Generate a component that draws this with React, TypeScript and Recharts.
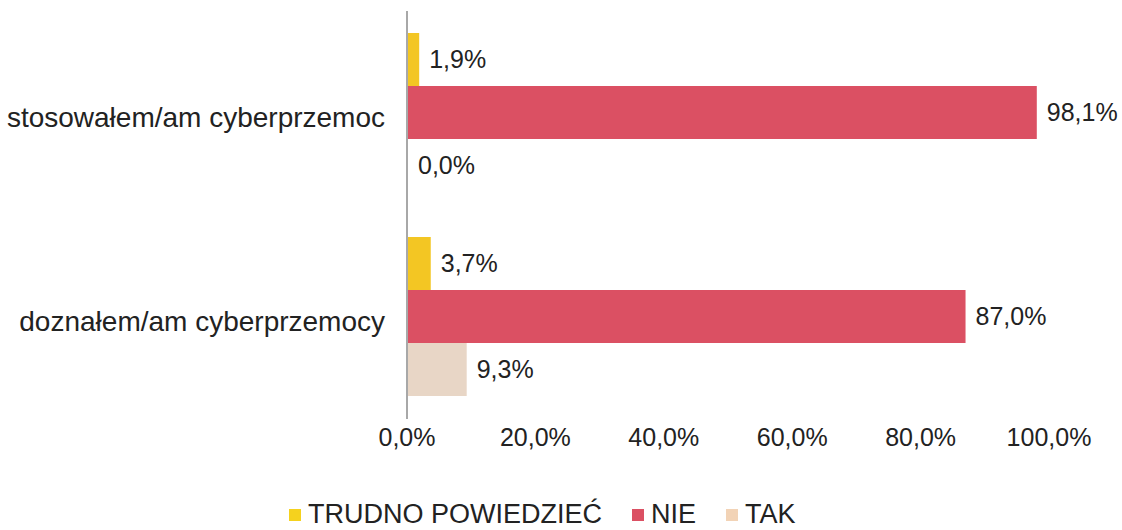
import React from 'react';
import { BarChart, Bar, XAxis, YAxis, Legend, LabelList } from 'recharts';

const categories = ['stosowałem/am cyberprzemoc', 'doznałem/am cyberprzemocy'];
const trudno = [1.9, 3.7];
const nie = [98.1, 87.0];
const tak = [0.0, 9.3];
const xTicks = [0, 20, 40, 60, 80, 100];

const SERIES = [
  { key: 'trudno', name: 'TRUDNO POWIEDZIEĆ', color: '#F3C623', legendColor: '#F5D21E' },
  { key: 'nie', name: 'NIE', color: '#DB5063', legendColor: '#DB5063' },
  { key: 'tak', name: 'TAK', color: '#E8D6C6', legendColor: '#F2D3B6' },
];

const data = categories.map((c, i) => ({
  name: c,
  trudno: trudno[i],
  nie: nie[i],
  tak: tak[i],
}));

const FONT = '"Liberation Sans", Arial, sans-serif';

const pct = (v: number) => `${Number(v).toFixed(1).replace('.', ',')}%`;

const CategoryTick = (props: any) => {
  const { x, y, payload } = props;
  return (
    <text x={x} y={y} dy={14} textAnchor="end" fontSize={28} fill="#222" fontFamily={FONT}>
      {payload.value}
    </text>
  );
};

const LegendContent = () => (
  <div style={{ display: 'flex', alignItems: 'center', fontFamily: FONT, fontSize: 27, color: '#222' }}>
    {SERIES.map((s) => (
      <div key={s.key} style={{ display: 'flex', alignItems: 'center', marginRight: 30 }}>
        <span
          style={{
            width: 12,
            height: 12,
            background: s.legendColor,
            display: 'inline-block',
            marginRight: 7,
          }}
        />
        <span>{s.name}</span>
      </div>
    ))}
  </div>
);

export default function App() {
  return (
    <div style={{ position: 'absolute', top: 0, left: 0, width: 1122, height: 530, background: '#fff' }}>
      <BarChart
        width={1122}
        height={530}
        data={data}
        layout="vertical"
        margin={{ top: 11, right: 73, bottom: 71, left: 0 }}
        barCategoryGap={22}
        barGap={0}
      >
        <XAxis
          type="number"
          domain={[0, 100]}
          ticks={xTicks}
          tickFormatter={pct}
          axisLine={false}
          tickLine={false}
          tickSize={0}
          tickMargin={9}
          height={40}
          tick={{ fontSize: 25, fill: '#222', fontFamily: FONT }}
        />
        {SERIES.map((s) => (
          <Bar
            key={s.key}
            dataKey={s.key}
            name={s.name}
            fill={s.color}
            minPointSize={1}
            isAnimationActive={false}
          >
            <LabelList
              dataKey={s.key}
              position="right"
              offset={10}
              formatter={(v: any) => pct(v)}
              style={{ fontSize: 25, fill: '#222', fontFamily: FONT }}
            />
          </Bar>
        ))}
        <YAxis
          type="category"
          dataKey="name"
          width={407}
          axisLine={{ stroke: '#A8A8A8', strokeWidth: 2 }}
          tickLine={false}
          tickSize={0}
          tickMargin={22}
          tick={<CategoryTick />}
        />
        <Legend
          layout="horizontal"
          verticalAlign="middle"
          align="center"
          content={<LegendContent />}
          wrapperStyle={{ top: 499, left: 289, width: 720 }}
        />
      </BarChart>
    </div>
  );
}
